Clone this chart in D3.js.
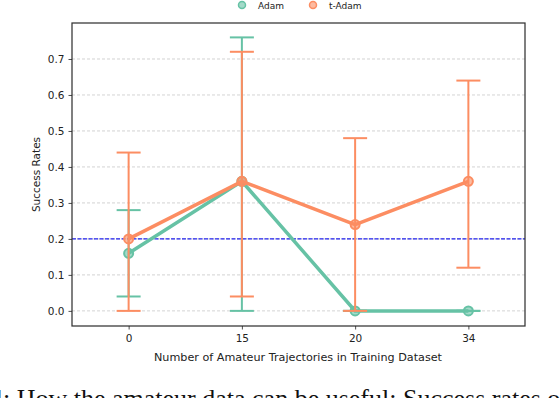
<!DOCTYPE html>
<html>
<head>
<meta charset="utf-8">
<script src="https://cdn.jsdelivr.net/npm/d3@7"></script>
<style>
  body { margin: 0; background: #fff; }
  text { font-family: "DejaVu Sans", sans-serif; }
</style>
</head>
<body>
<div id="chart"></div>
<script>
// data
var categories = ["0", "15", "20", "34"];
var adamMean = [0.16, 0.36, 0.0, 0.0];
var adamLow = [0.04, 0.0, 0.0, 0.0];
var adamHigh = [0.28, 0.76, 0.0, 0.0];
var tadamMean = [0.2, 0.36, 0.24, 0.36];
var tadamLow = [0.0, 0.04, 0.0, 0.12];
var tadamHigh = [0.44, 0.72, 0.48, 0.64];
var yTicks = [0, 0.1, 0.2, 0.3, 0.4, 0.5, 0.6, 0.7];
var baseline = 0.2;

// styles
var width = 560, height = 398;
var plotLeft = 72, plotRight = 525, plotTop = 23, plotBottom = 326;
var green = "#66c2a5", orange = "#fc8d62";
var labelSize = 10.5;

var svg = d3.select("#chart").append("svg")
  .attr("width", width).attr("height", height);

var x = d3.scalePoint().domain(categories).range([plotLeft, plotRight]).padding(0.5);
var y = d3.scaleLinear().domain([-0.042, 0.8]).range([plotBottom, plotTop]);

// grid
svg.append("g").selectAll("line").data(yTicks).join("line")
  .attr("x1", plotLeft).attr("x2", plotRight)
  .attr("y1", d => y(d)).attr("y2", d => y(d))
  .attr("stroke", "#c8c8c8").attr("stroke-width", 0.8)
  .attr("stroke-dasharray", "3,2");

// baseline
svg.append("line")
  .attr("x1", plotLeft).attr("x2", plotRight)
  .attr("y1", y(baseline)).attr("y2", y(baseline))
  .attr("stroke", "#2222ee").attr("stroke-width", 1.2)
  .attr("stroke-dasharray", "4,1.5");

function series(mean, low, high, color) {
  var g = svg.append("g");
  var pts = categories.map((c, i) => ({c: c, m: mean[i], lo: low[i], hi: high[i]}));
  g.selectAll(".eb").data(pts).join("line")
    .attr("x1", d => x(d.c)).attr("x2", d => x(d.c))
    .attr("y1", d => y(d.lo)).attr("y2", d => y(d.hi))
    .attr("stroke", color).attr("stroke-width", 2);
  ["lo", "hi"].forEach(k => {
    g.selectAll(".cap" + k).data(pts).join("line")
      .attr("x1", d => x(d.c) - 12).attr("x2", d => x(d.c) + 12)
      .attr("y1", d => y(d[k])).attr("y2", d => y(d[k]))
      .attr("stroke", color).attr("stroke-width", 2);
  });
  g.append("path").datum(pts)
    .attr("d", d3.line().x(d => x(d.c)).y(d => y(d.m)))
    .attr("fill", "none").attr("stroke", color).attr("stroke-width", 3.5);
  g.selectAll("circle").data(pts).join("circle")
    .attr("cx", d => x(d.c)).attr("cy", d => y(d.m)).attr("r", 4.5)
    .attr("fill", color).attr("fill-opacity", 0.6)
    .attr("stroke", color).attr("stroke-width", 2);
}
series(adamMean, adamLow, adamHigh, green);
series(tadamMean, tadamLow, tadamHigh, orange);

// frame
svg.append("rect")
  .attr("x", plotLeft).attr("y", plotTop)
  .attr("width", plotRight - plotLeft).attr("height", plotBottom - plotTop)
  .attr("fill", "none").attr("stroke", "#333").attr("stroke-width", 1.25);

// axes
var yAxis = svg.append("g").attr("transform", "translate(" + plotLeft + ",0)")
  .call(d3.axisLeft(y).tickValues(yTicks).tickFormat(d3.format(".1f")).tickSizeOuter(0).tickSize(3.5).tickPadding(4));
var xAxis = svg.append("g").attr("transform", "translate(0," + plotBottom + ")")
  .call(d3.axisBottom(x).tickSizeOuter(0).tickSize(3.5).tickPadding(5));
[yAxis, xAxis].forEach(a => {
  a.select(".domain").remove();
  a.selectAll("line").attr("stroke", "#222").attr("stroke-width", 0.8);
  a.selectAll("text").attr("font-size", labelSize).attr("fill", "#222")
    .style("font-family", "DejaVu Sans, sans-serif");
});

svg.append("text")
  .attr("transform", "translate(40," + ((plotTop + plotBottom) / 2) + ") rotate(-90)")
  .attr("text-anchor", "middle").attr("font-size", labelSize).attr("fill", "#222")
  .text("Success Rates");
svg.append("text")
  .attr("x", 298).attr("y", 361)
  .attr("text-anchor", "middle").attr("font-size", 11.2).attr("fill", "#222")
  .text("Number of Amateur Trajectories in Training Dataset");

// legend
var legend = [{name: "Adam", color: green, x: 242}, {name: "t-Adam", color: orange, x: 313}];
var lg = svg.append("g").selectAll("g").data(legend).join("g")
  .attr("transform", d => "translate(" + d.x + ",5)");
lg.append("circle").attr("r", 3.5)
  .attr("fill", d => d.color).attr("fill-opacity", 0.6)
  .attr("stroke", d => d.color).attr("stroke-width", 1.5);
lg.append("text").attr("x", 16).attr("y", 3.5).attr("font-size", 9).attr("fill", "#222")
  .text(d => d.name);

// caption fragment
svg.append("text")
  .attr("x", -10).attr("y", 407)
  .attr("font-size", 26).style("font-family", "Liberation Serif, serif").attr("fill", "#111")
  .text("4: How the amateur data can be useful: Success rates o");
</script>
</body>
</html>
